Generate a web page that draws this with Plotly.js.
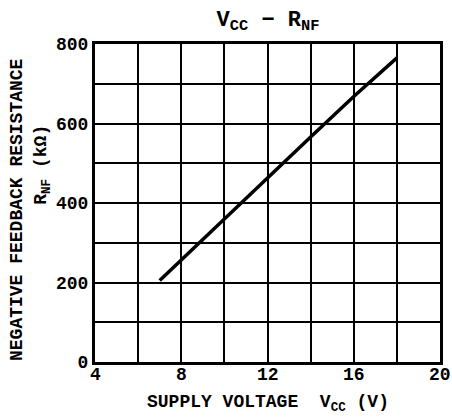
<!DOCTYPE html>
<html>
<head>
<meta charset="utf-8">
<script src="https://cdn.plot.ly/plotly-3.0.1.min.js"></script>
<style>html,body{margin:0;padding:0;background:#fff;}#chart{width:452px;height:418px;}</style>
</head>
<body>
<div id="chart"></div>
<script>
// Data
const supplyVoltage = [7, 8, 10, 12, 14, 16, 18];
const feedbackResistance = [205, 257, 360, 463, 566, 668, 765];
const xTickVals = [4, 8, 12, 16, 20];
const xTickText = ['4', '8', '12', '16', '20'];
const yTickVals = [0, 200, 400, 600, 800];
const yTickText = ['0', '200', '400', '600', '800'];

const FONT = 'Liberation Mono, Courier New, DejaVu Sans Mono, monospace';

const trace = {
  x: supplyVoltage,
  y: feedbackResistance,
  mode: 'lines',
  line: {color: '#000', width: 3.5},
  hoverinfo: 'none'
};

// x tick labels placed through the x axis scale, close under the frame
const xTickAnnotations = xTickVals.map((v, i) => ({
  text: xTickText[i], xref: 'x', yref: 'paper', x: v, y: -0.002,
  xanchor: 'center', yanchor: 'top', showarrow: false,
  font: {family: FONT, size: 18, color: '#000', weight: 'bold'}
}));

const layout = {
  width: 452, height: 418,
  margin: {l: 95, r: 12, t: 44, b: 56},
  paper_bgcolor: '#fff', plot_bgcolor: '#fff',
  showlegend: false,
  font: {family: FONT, color: '#000', size: 18, weight: 'bold'},
  title: {
    text: 'V<sub>CC</sub> − R<sub>NF</sub>',
    x: 0.593, xanchor: 'center', y: 0.957, yanchor: 'middle',
    font: {family: FONT, size: 22, color: '#000', weight: 'bold'}
  },
  xaxis: {
    range: [4, 20], tickmode: 'array', tickvals: xTickVals, ticktext: xTickText,
    showticklabels: false,
    showgrid: true, gridcolor: '#000', gridwidth: 2,
    minor: {dtick: 2, tick0: 4, showgrid: true, gridcolor: '#000', gridwidth: 2},
    showline: true, linecolor: '#000', linewidth: 3, mirror: true,
    zeroline: false, ticks: '', ticklen: 0,
    fixedrange: true
  },
  yaxis: {
    range: [0, 800], tickmode: 'array', tickvals: yTickVals, ticktext: yTickText,
    showgrid: true, gridcolor: '#000', gridwidth: 2,
    minor: {dtick: 100, tick0: 0, showgrid: true, gridcolor: '#000', gridwidth: 2},
    showline: true, linecolor: '#000', linewidth: 3, mirror: true,
    zeroline: false, ticks: '', ticklen: 0, ticklabelstandoff: 0,
    tickfont: {family: FONT, size: 18, color: '#000', weight: 'bold'},
    fixedrange: true
  },
  annotations: xTickAnnotations.concat([
    {
      text: 'SUPPLY VOLTAGE  V<sub>CC</sub> (V)',
      xref: 'paper', yref: 'paper', x: 0.5, y: -0.13,
      xanchor: 'center', yanchor: 'middle', showarrow: false,
      font: {family: FONT, size: 18, color: '#000', weight: 'bold'}
    },
    {
      text: 'NEGATIVE FEEDBACK RESISTANCE',
      xref: 'paper', yref: 'paper', x: -0.226, y: 0.478,
      xanchor: 'center', yanchor: 'middle', showarrow: false, textangle: -90,
      font: {family: FONT, size: 18, color: '#000', weight: 'bold'}
    },
    {
      text: 'R<sub>NF</sub> (kΩ)',
      xref: 'paper', yref: 'paper', x: -0.151, y: 0.62,
      xanchor: 'center', yanchor: 'middle', showarrow: false, textangle: -90,
      font: {family: FONT, size: 18, color: '#000', weight: 'bold'}
    }
  ])
};

Plotly.newPlot('chart', [trace], layout, {displayModeBar: false, staticPlot: true});
</script>
</body>
</html>
